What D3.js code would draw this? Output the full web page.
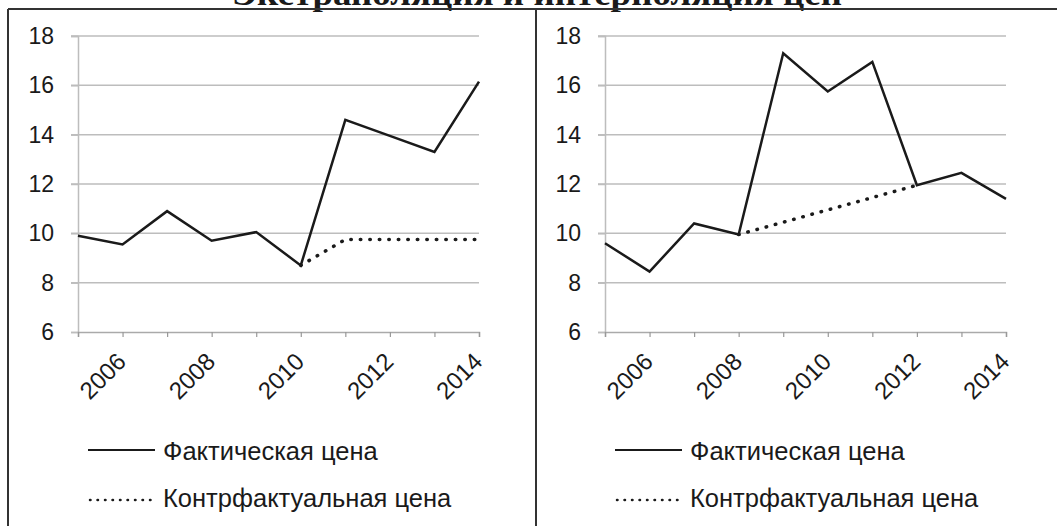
<!DOCTYPE html>
<html>
  <head>
    <meta charset="utf-8">
    <title>Экстраполяция и интерполяция цен</title>
    <script src="https://d3js.org/d3.v7.min.js"></script>
    <style>
      body { margin: 0; background: #fff; }
      text { font-family: "Liberation Sans", Arial, sans-serif; fill: #1a1a1a; }
    </style>
  </head>
  <body>
    <div id="chart"></div>
    <script>
      // values
      var years = [2005, 2006, 2007, 2008, 2009, 2010, 2011, 2012, 2013, 2014];
      var yearLabels = [2006, 2008, 2010, 2012, 2014];
      var priceTicks = [6, 8, 10, 12, 14, 16, 18];

      var leftActual = [9.9, 9.55, 10.9, 9.7, 10.05, 8.7, 14.6, 13.95, 13.3, 16.15];
      var leftCounterYears = [2010, 2011, 2012, 2013, 2014];
      var leftCounter = [8.7, 9.75, 9.75, 9.75, 9.75];

      var rightActual = [9.6, 8.45, 10.4, 9.95, 17.3, 15.75, 16.95, 11.95, 12.45, 11.4];
      var rightCounterYears = [2008, 2009, 2010, 2011, 2012];
      var rightCounter = [9.95, 10.45, 10.95, 11.45, 11.95];

      var legendNames = ["Фактическая цена", "Контрфактуальная цена"];
      var title = "Экстраполяция и интерполяция цен";

      var svg = d3.select("#chart").append("svg")
        .attr("width", 1057)
        .attr("height", 526);

      // title, cut off by the top of the page as in the scan
      svg.append("text")
        .attr("x", 537).attr("y", 5)
        .attr("text-anchor", "middle")
        .attr("textLength", 610)
        .attr("lengthAdjust", "spacingAndGlyphs")
        .style("font-family", "'Liberation Serif', 'Times New Roman', serif")
        .style("font-weight", "bold")
        .style("font-size", "34px")
        .text(title);

      // panel frame
      var frame = svg.append("g").attr("stroke", "#333").attr("stroke-width", 2);
      frame.append("line").attr("x1", 8).attr("x2", 1057).attr("y1", 9).attr("y2", 9);
      frame.append("line").attr("x1", 8).attr("x2", 8).attr("y1", 9).attr("y2", 526);
      frame.append("line").attr("x1", 536).attr("x2", 536).attr("y1", 9).attr("y2", 526);

      function panel(left, actual, cYears, counter) {
        var g = svg.append("g");
        var x = d3.scaleLinear().domain([2005, 2014]).range([left, left + 401]);
        var y = d3.scaleLinear().domain([6, 18]).range([332, 36]);

        // grid
        g.selectAll(".grid").data(priceTicks.slice(1)).enter().append("line")
          .attr("x1", x(2005) - 7).attr("x2", x(2014))
          .attr("y1", function (d) { return y(d); })
          .attr("y2", function (d) { return y(d); })
          .attr("stroke", "#bdbdbd").attr("stroke-width", 1.5);

        // y axis
        var ya = g.append("g")
          .attr("transform", "translate(" + x(2005) + ",0)")
          .call(d3.axisLeft(y).tickValues(priceTicks).tickSize(7).tickPadding(17));
        ya.select(".domain").attr("stroke", "#bdbdbd").attr("stroke-width", 1.5);
        ya.selectAll(".tick line").attr("stroke", "#bdbdbd").attr("stroke-width", 1.5);
        ya.selectAll(".tick text")
          .style("font-size", "23px").style("font-family", "'Liberation Sans', Arial, sans-serif")
          .attr("fill", "#1a1a1a");

        // x axis
        var xa = g.append("g")
          .attr("transform", "translate(0," + y(6) + ")")
          .call(d3.axisBottom(x).tickValues(years).tickSize(5).tickFormat(""));
        xa.select(".domain").attr("stroke", "#aaa").attr("stroke-width", 1.5);
        xa.selectAll(".tick line").attr("stroke", "#999").attr("stroke-width", 1.2);

        g.selectAll(".xl").data(yearLabels).enter().append("text")
          .attr("transform", function (d) {
            return "translate(" + (x(d) + 5) + "," + (y(6) + 31) + ") rotate(-45)";
          })
          .attr("text-anchor", "end")
          .style("font-size", "24px")
          .text(function (d) { return d; });

        var line = d3.line()
          .x(function (d) { return x(d[0]); })
          .y(function (d) { return y(d[1]); });

        g.append("path")
          .attr("d", line(d3.zip(cYears, counter)))
          .attr("fill", "none").attr("stroke", "#1a1a1a")
          .attr("stroke-width", 3.5)
          .attr("stroke-linecap", "round")
          .attr("stroke-dasharray", "0.5,9");

        g.append("path")
          .attr("d", line(d3.zip(years, actual)))
          .attr("fill", "none").attr("stroke", "#1a1a1a")
          .attr("stroke-width", 2.5)
          .attr("stroke-linejoin", "miter");

        // legend
        var lx = left + 10;
        g.append("line").attr("x1", lx).attr("x2", lx + 67).attr("y1", 450).attr("y2", 450)
          .attr("stroke", "#1a1a1a").attr("stroke-width", 2);
        g.append("text").attr("x", lx + 75).attr("y", 460)
          .style("font-size", "25.5px").text(legendNames[0]);
        g.append("line").attr("x1", lx + 2).attr("x2", lx + 67).attr("y1", 500).attr("y2", 500)
          .attr("stroke", "#1a1a1a").attr("stroke-width", 2.5)
          .attr("stroke-linecap", "round").attr("stroke-dasharray", "0.5,7");
        g.append("text").attr("x", lx + 75).attr("y", 507)
          .style("font-size", "25.5px").text(legendNames[1]);
      }

      panel(78, leftActual, leftCounterYears, leftCounter);
      panel(605, rightActual, rightCounterYears, rightCounter);
    </script>
  </body>
</html>
